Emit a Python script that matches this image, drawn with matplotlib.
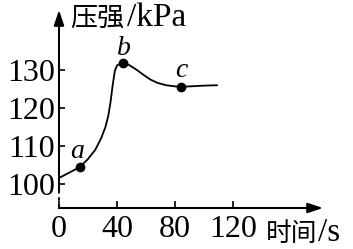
import matplotlib
matplotlib.use("Agg")
import matplotlib.pyplot as plt

# data
time_s = [0, 5, 10, 14.5, 20, 25, 29, 32, 34, 35.5, 37, 38.5, 40, 42, 44,
          48, 53, 58, 63, 68, 74, 80, 84, 90, 100, 109]
pressure_kpa = [101.6, 102.6, 103.6, 104.5, 106.6, 109.0, 112.0, 115.0, 118.0,
                121.5, 126.0, 129.8, 131.2, 131.7, 131.9,
                131.4, 130.2, 128.8, 127.5, 126.6, 126.0, 125.7, 125.6, 125.7,
                125.9, 126.0]
point_names = ["a", "b", "c"]
point_t = [14.5, 44, 84]
point_p = [104.5, 131.9, 125.6]
label_dx = [-2.2, 0.6, 0]
label_y = [106.8, 134.0, 128.2]
xticks = [0, 40, 80, 120]
yticks = [100, 110, 120, 130]

W, H = 353, 249
fig = plt.figure(figsize=(W / 100, H / 100), dpi=100)
ax = fig.add_axes([59 / W, (H - 208) / H, (323 - 59) / W, (208 - 10) / H])
ax.set_xlim(0, 182)
ax.set_ylim(93.7, 145.8)
for s in ax.spines.values():
    s.set_visible(False)

serif = "Liberation Serif"
cjk = "Noto Sans CJK SC"

ax.plot(time_s, pressure_kpa, color="black", lw=1.3, solid_capstyle="round")
ax.plot(point_t, point_p, "o", color="black", ms=6)
for n, t, dx, ly in zip(point_names, point_t, label_dx, label_y):
    ax.text(t + dx, ly, n, family=serif, style="italic", fontsize=20,
            ha="center", va="baseline")

ax.set_xticks(xticks)
ax.set_xticklabels([str(v) for v in xticks], family=serif, fontsize=23)
ax.set_yticks(yticks)
ax.set_yticklabels([str(v) for v in yticks], family=serif, fontsize=23)
ax.tick_params(axis="x", direction="in", length=5, width=1.2, pad=5)
ax.tick_params(axis="y", direction="in", length=4, width=1.2, pad=3)

# axes lines with arrows
tr = ax.transAxes
y_break = (208 - 190) / 198
ax.plot([0, 0], [y_break, 0.96], color="black", lw=1.5, transform=tr, clip_on=False)
ax.plot([0, 0], [0, y_break], color="black", lw=1.3, ls=(0, (2, 2)),
        transform=tr, clip_on=False)
ax.plot([0, 0.96], [0, 0], color="black", lw=1.5, transform=tr, clip_on=False)
ax.annotate("", xy=(0, 1.0), xytext=(0, 0.93), xycoords=tr, textcoords=tr,
            arrowprops=dict(arrowstyle="-|>,head_length=0.9,head_width=0.3",
                            color="black", lw=1.5, shrinkA=0, shrinkB=0))
ax.annotate("", xy=(1.0, 0), xytext=(0.95, 0), xycoords=tr, textcoords=tr,
            arrowprops=dict(arrowstyle="-|>,head_length=0.9,head_width=0.3",
                            color="black", lw=1.5, shrinkA=0, shrinkB=0))

# axis titles
fig.text(70 / W, 1 - 26 / H, "压强", family=cjk, fontsize=19.5, va="baseline", ha="left")
fig.text(127 / W, 1 - 26 / H, "/kPa", family=serif, fontsize=24, va="baseline", ha="left")
fig.text(266 / W, 1 - 241 / H, "时间", family=cjk, fontsize=18.5, va="baseline", ha="left")
fig.text(318 / W, 1 - 241 / H, "/s", family=serif, fontsize=24, va="baseline", ha="left")

fig.savefig("out.png", dpi=100)
